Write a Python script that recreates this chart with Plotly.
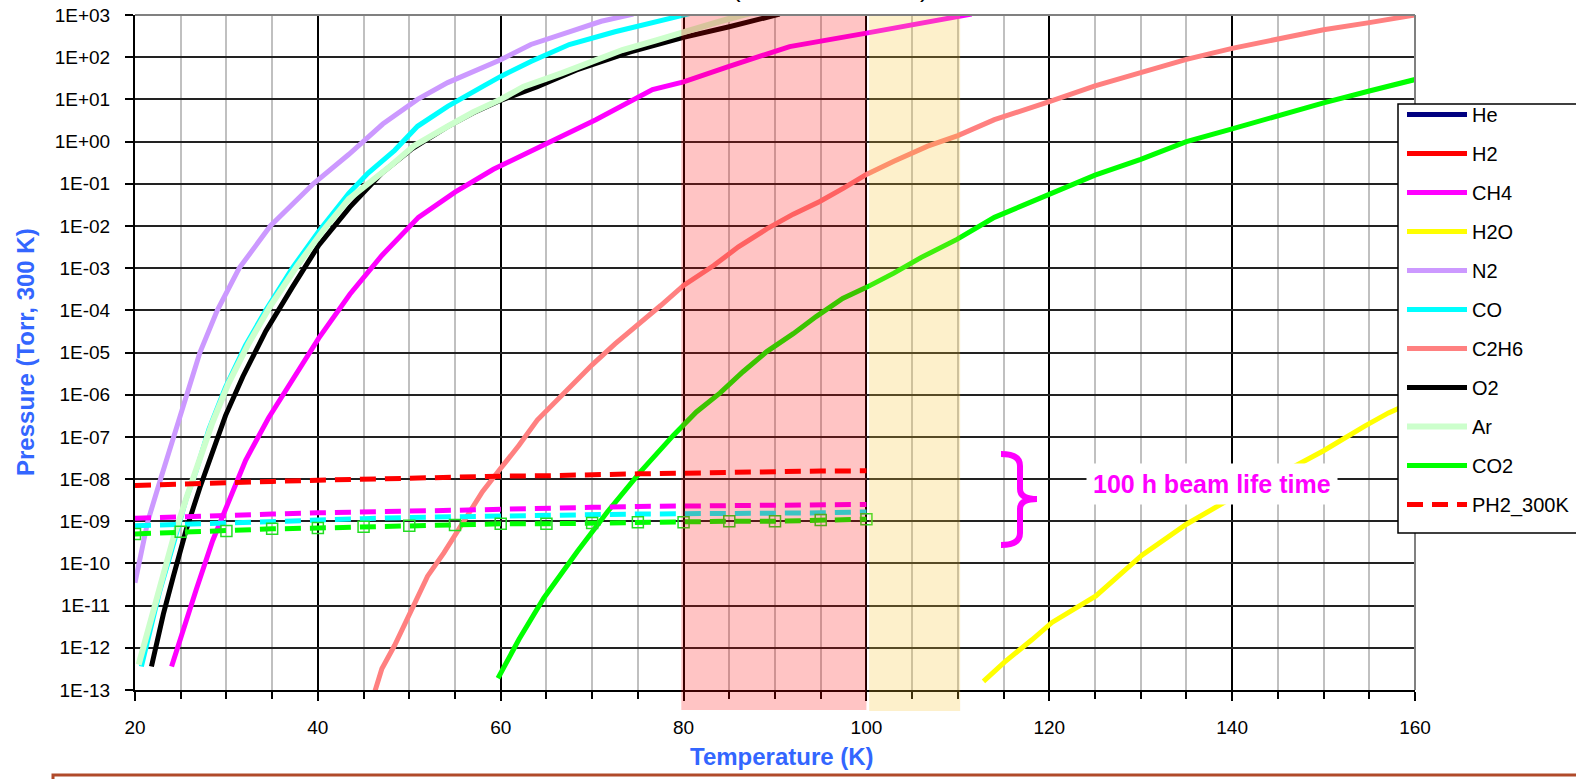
import plotly.graph_objects as go

# ---------------- data ----------------
# solid vapour-pressure curves: temperature (K) and pressure (Torr, 300 K)
T_he = [20.0, 25.0, 30.0]
P_he = [1.0e6, 2.0e6, 3.0e6]

T_h2 = [20.0, 22.0, 25.0]
P_h2 = [3.0e3, 6.0e3, 1.5e4]

T_ch4 = [24.0, 25.2, 26.7, 28.5, 30.3, 32.1, 34.6, 37.2, 40.1, 43.5, 47.0, 51.0,
         55.0, 59.2, 65.0, 70.4, 76.6, 80.0, 84.9, 91.6, 100.0, 108.6, 111.5]
P_ch4 = [3.6e-13, 2.5e-12, 2.4e-11, 3.5e-10, 3.4e-9, 2.8e-8, 2.8e-7, 2.2e-6, 2.2e-5,
         2.4e-4, 2.0e-3, 1.6e-2, 6.3e-2, 0.22, 0.93, 3.3, 17.0, 26.0, 60.0, 178.0,
         372.0, 832.0, 1050.0]

T_h2o = [112.8, 115.1, 118.1, 120.3, 125.1, 130.1, 135.0, 140.0, 145.0, 150.0,
         154.5, 157.1, 160.0]
P_h2o = [1.6e-13, 4.6e-13, 1.55e-12, 4.0e-12, 1.7e-11, 1.55e-10, 8.5e-10, 3.6e-9,
         1.23e-8, 4.7e-8, 1.8e-7, 3.7e-7, 7.1e-7]

T_n2 = [20.0, 20.4, 21.4, 22.8, 24.2, 25.6, 27.1, 29.0, 31.4, 34.8, 39.5, 43.4,
        47.1, 50.9, 54.2, 60.0, 63.3, 67.5, 71.0, 74.5]
P_n2 = [3.5e-11, 1.0e-10, 1.0e-9, 1.0e-8, 1.0e-7, 1.0e-6, 1.0e-5, 1.0e-4, 1.0e-3,
        1.0e-2, 0.1, 0.5, 2.6, 10.0, 25.0, 87.0, 200.0, 400.0, 710.0, 1050.0]

T_co = [20.7, 21.6, 22.7, 24.2, 25.6, 26.7, 28.1, 29.9, 32.1, 34.3, 37.2, 40.1,
        43.4, 45.5, 48.4, 50.9, 54.2, 58.0, 60.0, 63.3, 67.5, 72.5, 80.0, 81.0]
P_co = [3.6e-13, 2.5e-12, 2.2e-11, 2.9e-10, 3.4e-9, 1.6e-8, 1.55e-7, 1.5e-6, 1.5e-5,
        1.0e-4, 1.0e-3, 7.5e-3, 6.0e-2, 0.18, 0.62, 2.3, 6.8, 20.0, 35.0, 79.0,
        200.0, 400.0, 1000.0, 1120.0]

T_c2h6 = [46.0, 47.0, 48.4, 50.0, 50.9, 52.0, 53.8, 56.0, 58.0, 60.0, 62.0, 64.0,
          66.7, 70.0, 72.5, 75.0, 77.5, 80.0, 83.3, 86.0, 89.1, 92.0, 94.9, 97.5,
          100.0, 103.0, 106.7, 110.0, 114.0, 120.0, 125.0, 130.0, 135.0, 140.0,
          145.0, 150.0, 155.0, 160.0]
P_c2h6 = [6.3e-14, 3.2e-13, 1.15e-12, 6.3e-12, 1.6e-11, 5.0e-11, 1.8e-10, 1.05e-9,
          5.0e-9, 1.8e-8, 6.3e-8, 2.5e-7, 1.0e-6, 5.1e-6, 1.6e-5, 4.5e-5, 1.3e-4,
          3.9e-4, 1.15e-3, 3.2e-3, 8.5e-3, 1.9e-2, 3.8e-2, 7.9e-2, 0.166, 0.34, 0.78,
          1.38, 3.3, 8.9, 21.0, 43.0, 89.0, 162.0, 275.0, 447.0, 660.0, 1000.0]

T_o2 = [21.8, 23.1, 24.2, 25.6, 27.1, 28.5, 29.9, 31.8, 34.3, 37.2, 40.1, 43.5,
        47.0, 50.2, 54.1, 57.0, 60.0, 64.0, 68.3, 74.1, 80.0, 85.0, 89.5, 90.5]
P_o2 = [3.6e-13, 6.3e-12, 5.0e-11, 6.3e-10, 6.3e-9, 4.5e-8, 3.2e-7, 2.7e-6, 3.2e-5,
        3.5e-4, 3.5e-3, 2.8e-2, 0.18, 0.65, 2.2, 4.8, 9.5, 20.0, 50.0, 132.0, 295.0,
        525.0, 930.0, 1050.0]

T_ar = [20.4, 21.5, 22.7, 24.2, 25.7, 27.0, 28.4, 30.2, 32.4, 34.8, 37.7, 40.6,
        43.4, 47.9, 50.5, 54.2, 57.0, 60.0, 62.5, 66.7, 70.0, 73.3, 77.0, 80.0,
        84.0, 86.5, 87.5]
P_ar = [4.0e-13, 3.2e-12, 3.2e-11, 4.0e-10, 4.0e-9, 2.5e-8, 2.0e-7, 1.8e-6, 1.6e-5,
        1.26e-4, 1.1e-3, 7.9e-3, 4.4e-2, 0.26, 0.79, 2.3, 5.0, 10.0, 20.0, 42.0,
        79.0, 148.0, 250.0, 400.0, 710.0, 1000.0, 1120.0]

T_co2 = [59.7, 62.0, 64.7, 68.4, 71.7, 75.3, 78.9, 81.4, 84.0, 86.5, 89.1, 92.0,
         94.5, 97.4, 100.0, 103.0, 106.0, 109.9, 114.0, 117.0, 120.0, 125.0, 130.0,
         135.0, 140.0, 145.0, 150.0, 155.0, 160.0]
P_co2 = [1.9e-13, 1.6e-12, 1.5e-11, 1.95e-10, 1.7e-9, 1.5e-8, 1.1e-7, 3.9e-7, 1.1e-6,
         3.5e-6, 1.05e-5, 2.8e-5, 7.1e-5, 1.9e-4, 3.5e-4, 7.6e-4, 1.8e-3, 4.8e-3,
         1.6e-2, 3.0e-2, 5.4e-2, 0.16, 0.38, 1.0, 2.0, 4.1, 8.3, 15.8, 29.5]

# dashed partial-pressure lines (every 5 K from 20 to 100 K)
T_pp = [20, 25, 30, 35, 40, 45, 50, 55, 60, 65, 70, 75, 80, 85, 90, 95, 100]
P_ph2_300k = [7.0e-9, 7.4e-9, 8.3e-9, 8.8e-9, 9.4e-9, 1.0e-8, 1.1e-8, 1.12e-8, 1.17e-8,
              1.2e-8, 1.3e-8, 1.33e-8, 1.38e-8, 1.45e-8, 1.48e-8, 1.55e-8, 1.57e-8]
P_pch4 = [1.17e-9, 1.29e-9, 1.35e-9, 1.48e-9, 1.58e-9, 1.70e-9, 1.74e-9, 1.82e-9,
          1.95e-9, 2.09e-9, 2.14e-9, 2.24e-9, 2.29e-9, 2.29e-9, 2.34e-9, 2.45e-9, 2.51e-9]
P_pco = [7.8e-10, 8.5e-10, 9.3e-10, 1.02e-9, 1.12e-9, 1.15e-9, 1.23e-9, 1.29e-9,
         1.35e-9, 1.38e-9, 1.45e-9, 1.48e-9, 1.51e-9, 1.51e-9, 1.55e-9, 1.58e-9, 1.66e-9]
P_pco2 = [5.0e-10, 5.6e-10, 5.9e-10, 6.6e-10, 6.9e-10, 7.4e-10, 7.8e-10, 8.1e-10,
          8.7e-10, 8.7e-10, 9.1e-10, 9.5e-10, 9.5e-10, 1.0e-9, 1.0e-9, 1.07e-9, 1.12e-9]

# axis ticks
x_tickvals = [20, 40, 60, 80, 100, 120, 140, 160]
y_tickvals = [1e3, 1e2, 1e1, 1e0, 1e-1, 1e-2, 1e-3, 1e-4, 1e-5, 1e-6, 1e-7, 1e-8,
              1e-9, 1e-10, 1e-11, 1e-12, 1e-13]
y_ticktext = ["1E+03", "1E+02", "1E+01", "1E+00", "1E-01", "1E-02", "1E-03", "1E-04",
              "1E-05", "1E-06", "1E-07", "1E-08", "1E-09", "1E-10", "1E-11", "1E-12",
              "1E-13"]

# shaded temperature bands
band_red = (79.75, 100.0)
band_yellow = (100.3, 110.25)

FONT = "Liberation Sans, Arial, sans-serif"
BLUE = "#3366FF"

# ---------------- figure ----------------
fig = go.Figure()

solid = [
    ("He", T_he, P_he, "#000080", 5),
    ("H2", T_h2, P_h2, "#FF0000", 5),
    ("CH4", T_ch4, P_ch4, "#FF00FF", 5),
    ("H2O", T_h2o, P_h2o, "#FFFF00", 5),
    ("N2", T_n2, P_n2, "#CC99FF", 5),
    ("CO", T_co, P_co, "#00FFFF", 5),
    ("C2H6", T_c2h6, P_c2h6, "#FF8080", 5),
    ("O2", T_o2, P_o2, "#000000", 5),
    ("Ar", T_ar, P_ar, "#CCFFCC", 6),
    ("CO2", T_co2, P_co2, "#00FF00", 5),
]
for name, tx, py, col, w in solid:
    fig.add_trace(go.Scatter(x=tx, y=py, mode="lines", name=name, legendgroup=name,
                             line=dict(color=col, width=w)))

DASH = "16px,9px"
fig.add_trace(go.Scatter(x=T_pp, y=P_pch4, mode="lines", showlegend=False,
                         line=dict(color="#FF00FF", width=5, dash=DASH)))
fig.add_trace(go.Scatter(x=T_pp, y=P_pco, mode="lines", showlegend=False,
                         line=dict(color="#00FFFF", width=5, dash=DASH)))
fig.add_trace(go.Scatter(x=T_pp, y=P_pco2, mode="lines+markers", showlegend=False,
                         line=dict(color="#00FF00", width=5, dash=DASH),
                         marker=dict(symbol="square-open", size=11,
                                     color="#22DD22", line=dict(width=1.5, color="#22DD22"))))
fig.add_trace(go.Scatter(x=T_pp, y=P_ph2_300k, mode="lines", name="PH2_300K",
                         legendgroup="PH2_300K",
                         line=dict(color="#FF0000", width=5, dash=DASH)))

# pixel helpers for decorations (plot area 135..1415 x 15..690)
def px(xp):
    return (xp - 135) / 1280.0

def py_(yp):
    return (690 - yp) / 675.0

shapes = [
    dict(type="rect", xref="x", yref="paper", x0=band_red[0], x1=band_red[1],
         y0=py_(710), y1=1, fillcolor="rgba(255,0,0,0.23)", line=dict(width=0),
         layer="above"),
    dict(type="rect", xref="x", yref="paper", x0=band_yellow[0], x1=band_yellow[1],
         y0=py_(711), y1=1, fillcolor="rgba(247,195,47,0.25)", line=dict(width=0),
         layer="above"),
    # top and right frame (grey)
    dict(type="line", xref="paper", yref="paper", x0=0, x1=1, y0=1, y1=1,
         line=dict(color="#808080", width=2), layer="above"),
    dict(type="line", xref="paper", yref="paper", x0=1, x1=1, y0=0, y1=1,
         line=dict(color="#808080", width=2), layer="above"),
    # legend frame (runs off the right edge)
    dict(type="rect", xref="paper", yref="paper", x0=px(1398), x1=px(1700),
         y0=py_(533), y1=py_(104), fillcolor="white",
         line=dict(color="black", width=1.5), layer="above"),
    # curly brace
    dict(type="path", xref="paper", yref="paper",
         path=(f"M {px(1001)},{py_(454)} Q {px(1020)},{py_(454)} {px(1020)},{py_(466)} "
               f"L {px(1020)},{py_(489)} Q {px(1020)},{py_(499)} {px(1037)},{py_(499)} "
               f"Q {px(1020)},{py_(499)} {px(1020)},{py_(509)} "
               f"L {px(1020)},{py_(533)} Q {px(1020)},{py_(545)} {px(1001)},{py_(545)}"),
         line=dict(color="#FF00FF", width=6), layer="above"),
    # text box at the bottom (cut off)
    dict(type="rect", xref="paper", yref="paper", x0=px(53), x1=px(1800),
         y0=py_(820), y1=py_(775), fillcolor="white",
         line=dict(color="#B04A2A", width=3), layer="above"),
]

annotations = [
    dict(text="<b>100 h beam life time</b>", xref="paper", yref="paper",
         x=px(1212), y=py_(484), xanchor="center", yanchor="middle",
         showarrow=False, bgcolor="white", borderpad=6,
         font=dict(family=FONT, size=25, color="#FF00FF")),
    dict(text="<b>Temperature (K)</b>", xref="paper", yref="paper",
         x=px(782), y=py_(757), xanchor="center", yanchor="middle", showarrow=False,
         font=dict(family=FONT, size=24, color=BLUE)),
    dict(text="<b>Pressure (Torr, 300 K)</b>", xref="paper", yref="paper",
         x=px(25), y=py_(352), xanchor="center", yanchor="middle", showarrow=False,
         textangle=-90, font=dict(family=FONT, size=24, color=BLUE)),
    dict(text="(", xref="paper", yref="paper", x=px(736), y=py_(5),
         xanchor="center", yanchor="bottom", showarrow=False,
         font=dict(family=FONT, size=26, color="black")),
    dict(text=")", xref="paper", yref="paper", x=px(924), y=py_(5),
         xanchor="center", yanchor="bottom", showarrow=False,
         font=dict(family=FONT, size=26, color="black")),
]

fig.update_layout(
    width=1576, height=779,
    margin=dict(l=135, r=161, t=15, b=89, autoexpand=False),
    paper_bgcolor="white", plot_bgcolor="white",
    font=dict(family=FONT, size=19, color="black"),
    showlegend=True,
    legend=dict(x=px(1402), y=py_(95), xanchor="left", yanchor="top",
                bgcolor="rgba(0,0,0,0)", borderwidth=0,
                font=dict(family=FONT, size=20, color="black"),
                tracegroupgap=10, itemwidth=60),
    shapes=shapes,
    annotations=annotations,
    xaxis=dict(range=[20, 160], tickvals=x_tickvals, showline=True, linecolor="black",
               linewidth=2, ticks="outside", ticklen=9, tickwidth=1.5,
               tickcolor="black", showgrid=True, gridcolor="black", gridwidth=1.5,
               zeroline=False, ticklabelstandoff=10, automargin=False,
               minor=dict(dtick=5, ticks="outside", ticklen=7, tickwidth=1.5,
                          tickcolor="black", showgrid=True, gridcolor="#C0C0C0",
                          gridwidth=2),
               tickfont=dict(family=FONT, size=19)),
    yaxis=dict(type="log", range=[-13, 3], tickvals=y_tickvals, ticktext=y_ticktext,
               showline=True, linecolor="black", linewidth=2, ticks="outside",
               ticklen=8, tickwidth=1.5, tickcolor="black", showgrid=True,
               gridcolor="#222222", gridwidth=1.5, zeroline=False, automargin=False,
               ticklabelstandoff=11, tickfont=dict(family=FONT, size=19)),
)

fig.write_html("out.html", config={"displayModeBar": False},
               post_script="document.body.style.margin='0';document.body.style.overflow='hidden';")
